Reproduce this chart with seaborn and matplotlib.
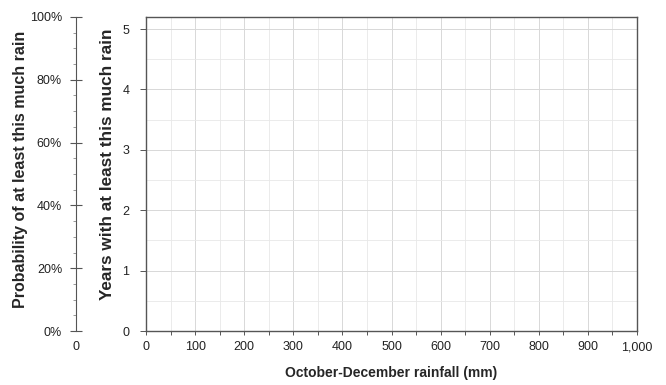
import matplotlib
matplotlib.use("Agg")
import matplotlib.pyplot as plt
import seaborn as sns
import pandas as pd
import numpy as np

# Data (the reference chart has no plotted series)
rainfall_mm = []
years_count = []
x_ticks = [0, 100, 200, 300, 400, 500, 600, 700, 800, 900, 1000]
x_tick_labels = ["0", "100", "200", "300", "400", "500", "600", "700", "800", "900", "1,000"]
y_ticks = [0, 1, 2, 3, 4, 5]
prob_ticks = [0, 0.2, 0.4, 0.6, 0.8, 1.0]
prob_labels = ["0%", "20%", "40%", "60%", "80%", "100%"]

sns.set_theme(style="white")
plt.rcParams['font.family'] = ['Liberation Sans', 'DejaVu Sans']

fig = plt.figure(figsize=(6.66, 3.85), dpi=100)
W, H = 666, 385

# Outer probability axis
ax2 = fig.add_axes([76 / W, (H - 331) / H, 0.001, (331 - 17) / H])
ax2.set_ylim(0, 1)
ax2.set_xlim(0, 1)
ax2.set_yticks(prob_ticks)
ax2.set_yticklabels(prob_labels, fontsize=9, color="#222222")
ax2.set_yticks(np.arange(0, 1.001, 0.05), minor=True)
ax2.tick_params(axis="y", which="major", left=True, direction="inout", length=8, width=0.8, color="#555555", pad=6)
ax2.tick_params(axis="y", which="minor", left=True, direction="out", length=2.5, width=0.6, color="#888888")
ax2.set_xticks([0])
ax2.set_xticklabels(["0"], fontsize=9, color="#222222")
ax2.tick_params(axis="x", bottom=False, pad=1)
for s in ["top", "right", "bottom"]:
    ax2.spines[s].set_visible(False)
ax2.spines["left"].set_color("#555555")
ax2.spines["left"].set_linewidth(0.8)
ax2.set_ylabel("Probability of at least this much rain", fontsize=11.5, fontweight="bold")
ax2.yaxis.set_label_coords(28 / W, (H - 169) / H, transform=fig.transFigure)

# Main axis
ax = fig.add_axes([146 / W, (H - 331) / H, (637 - 146) / W, (331 - 17) / H])
df = pd.DataFrame({"rainfall": pd.Series(rainfall_mm, dtype=float),
                   "years": pd.Series(years_count, dtype=float)})
sns.lineplot(data=df, x="rainfall", y="years", ax=ax)
ax.set_xlim(0, 1000)
ax.set_ylim(0, 5.2)
ax.set_xticks(x_ticks)
ax.set_xticklabels(x_tick_labels, fontsize=9, color="#222222")
ax.set_xticks(np.arange(50, 1000, 100), minor=True)
ax.set_yticks(y_ticks)
ax.set_yticklabels([str(v) for v in y_ticks], fontsize=9, color="#222222")
ax.set_yticks(np.arange(0.5, 5.2, 1.0), minor=True)
ax.grid(True, which="major", color="#d8d8d8", linewidth=0.7)
ax.grid(True, which="minor", color="#e8e8e8", linewidth=0.6)
ax.tick_params(axis="x", which="both", bottom=True, length=3, width=0.7, color="#555555", pad=4.5)
ax.tick_params(axis="y", which="major", left=True, length=4, width=0.7, color="#555555", pad=8)
ax.tick_params(axis="y", which="minor", left=False)
for s in ax.spines.values():
    s.set_color("#555555")
    s.set_linewidth(1.0)
ax.set_axisbelow(True)
ax.set_xlabel("October-December rainfall (mm)", fontsize=10, fontweight="bold", labelpad=9)
ax.set_ylabel("Years with at least this much rain", fontsize=12.3, fontweight="bold")
ax.yaxis.set_label_coords(115 / W, (H - 164) / H, transform=fig.transFigure)

fig.savefig("out.png", dpi=100)
